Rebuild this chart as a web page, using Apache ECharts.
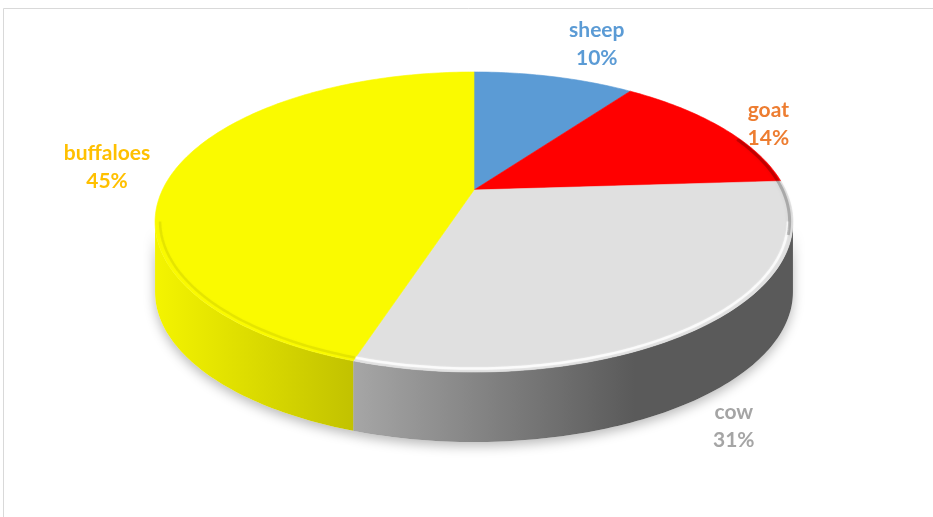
<!DOCTYPE html>
<html><head><meta charset="utf-8">
<script src="https://cdn.jsdelivr.net/npm/echarts@6/dist/echarts.min.js"></script>
<style>html,body{margin:0;padding:0;background:#fff}#c{width:933px;height:517px}</style>
</head><body><div id="c"></div>
<script>
// ---- data ----
const categories = ['sheep', 'goat', 'cow', 'buffaloes'];
const values = [10, 14, 31, 45];

// ---- styles ----
const topColors = ['#5B9BD5', '#FF0000', '#E0E0E0', '#FAFA00'];
const sideColors = [['#4A80B2', '#3A6690'], ['#D40000', '#A00000'], ['#A6A6A6', '#5A5A5A'], ['#F4F400', '#C2C200']];
const bevelColors = ['rgba(255,255,255,0.4)', 'rgba(255,255,255,0.4)', 'rgba(255,255,255,0.75)', 'rgba(200,200,0,0.35)'];
const labelColors = ['#5B9BD5', '#ED7D31', '#A5A5A5', '#FFC000'];

// ---- layout / projection ----
const CX = 474, CY = 190, AX = 311.6, BY = 143.2, PC = 0.2133, DEPTH = 70;
const FONT = 'bold 21px Lato';
const LINE_H = 28;
const thL = Math.acos(-PC) * 180 / Math.PI, thR = 360 - thL;

function proj(theta, k) {
  const t = theta * Math.PI / 180;
  const u = k * Math.sin(t), v = k * Math.cos(t);
  const w = 1 + PC * v;
  return [CX + AX * u / w, CY - BY * v / w];
}
function rim(a, b, k, dy) {
  const pts = [];
  const n = Math.max(2, Math.ceil(b - a));
  for (let i = 0; i <= n; i++) {
    const p = proj(a + (b - a) * i / n, k);
    pts.push([p[0], p[1] + (dy || 0)]);
  }
  return pts;
}
const total = values.reduce((s, v) => s + v, 0);
const starts = [], ends = [];
values.reduce((acc, v, i) => { starts[i] = acc / total * 360; ends[i] = (acc + v) / total * 360; return acc + v; }, 0);

const mctx = document.createElement('canvas').getContext('2d');
mctx.font = FONT;

function renderItem(params, api) {
  const i = params.dataIndex;
  const a = starts[i], b = ends[i];
  const children = [];
  // side
  const s = Math.max(a, thL), e = Math.min(b, thR);
  if (s < e) {
    const top = rim(s, e, 1, 0);
    const bot = rim(s, e, 1, DEPTH).reverse();
    const pts = top.concat(bot);
    let minX = Infinity, maxX = -Infinity;
    pts.forEach(p => { minX = Math.min(minX, p[0]); maxX = Math.max(maxX, p[0]); });
    const grad = new echarts.graphic.LinearGradient(minX, 0, Math.max(maxX, minX + 1), 0, [
      { offset: 0, color: sideColors[i][0] },
      { offset: i === 2 ? 0.64 : 1, color: sideColors[i][1] },
      { offset: 1, color: sideColors[i][1] }
    ], true);
    children.push({ type: 'polygon', z2: 0, shape: { points: pts },
      style: { fill: '#ffffff', shadowBlur: 12, shadowColor: 'rgba(0,0,0,0.28)', shadowOffsetY: 4 } });
    children.push({ type: 'polygon', z2: 1, shape: { points: pts }, style: { fill: grad } });
  }
  // top face
  const topPts = [proj(0, 0)].concat(rim(a, b, 1, 0));
  children.push({ type: 'polygon', z2: 2, shape: { points: topPts },
    style: { fill: topColors[i], stroke: topColors[i], lineWidth: 0.6 } });
  // bevel highlight / shading along the front rim
  if (s < e) {
    children.push({ type: 'polyline', z2: 3, shape: { points: rim(s, e, 0.985, 0) },
      style: { fill: null, stroke: bevelColors[i], lineWidth: 2.5, shadowBlur: 2, shadowColor: bevelColors[i] } });
  }
  const r1 = Math.max(a, thL - 35), r2 = Math.min(b, thL + 5);
  if (r1 < r2) {
    children.push({ type: 'polyline', z2: 3, shape: { points: rim(r1, r2, 0.99, 0) },
      style: { fill: null, stroke: 'rgba(0,0,0,0.22)', lineWidth: 3, shadowBlur: 4, shadowColor: 'rgba(0,0,0,0.3)' } });
  }
  // label
  const m = (a + b) / 2;
  const anc = proj(m, 1);
  if (m > thL && m < thR) anc[1] += DEPTH;
  let dx = anc[0] - CX, dy = anc[1] - CY;
  const len = Math.hypot(dx, dy); dx /= len; dy /= len;
  const txt = categories[i] + '\n' + Math.round(api.value(0) / total * 100) + '%';
  const hw = Math.max(mctx.measureText(categories[i]).width, mctx.measureText('100%').width * 0.8) / 2;
  const hh = 21, gx = 26, gy = 14;
  let lx = anc[0] + dx * gx, ly = anc[1] + dy * gy;
  if (dx > 0.3) lx += hw * (dy > 0.3 ? 0.5 : 1); else if (dx < -0.3) lx -= hw;
  if (dy < -0.3) ly -= hh; else if (dy > 0.3) ly += hh;
  children.push({ type: 'text', z2: 5, x: lx, y: ly,
    style: { text: txt, font: FONT, fill: labelColors[i], align: 'center', verticalAlign: 'middle', lineHeight: LINE_H } });
  return { type: 'group', children: children };
}

const chart = echarts.init(document.getElementById('c'), null, { renderer: 'canvas' });
chart.setOption({
  animation: false,
  backgroundColor: '#ffffff',
  graphic: [{ type: 'rect', silent: true, z: -10, shape: { x: 3.5, y: 8.5, width: 1200, height: 900 },
    style: { fill: 'none', stroke: '#D9D9D9', lineWidth: 1 } }],
  series: [{
    type: 'custom',
    coordinateSystem: 'none',
    silent: true,
    renderItem: renderItem,
    data: values.map((v, i) => ({ name: categories[i], value: [v] }))
  }]
});
</script></body></html>
